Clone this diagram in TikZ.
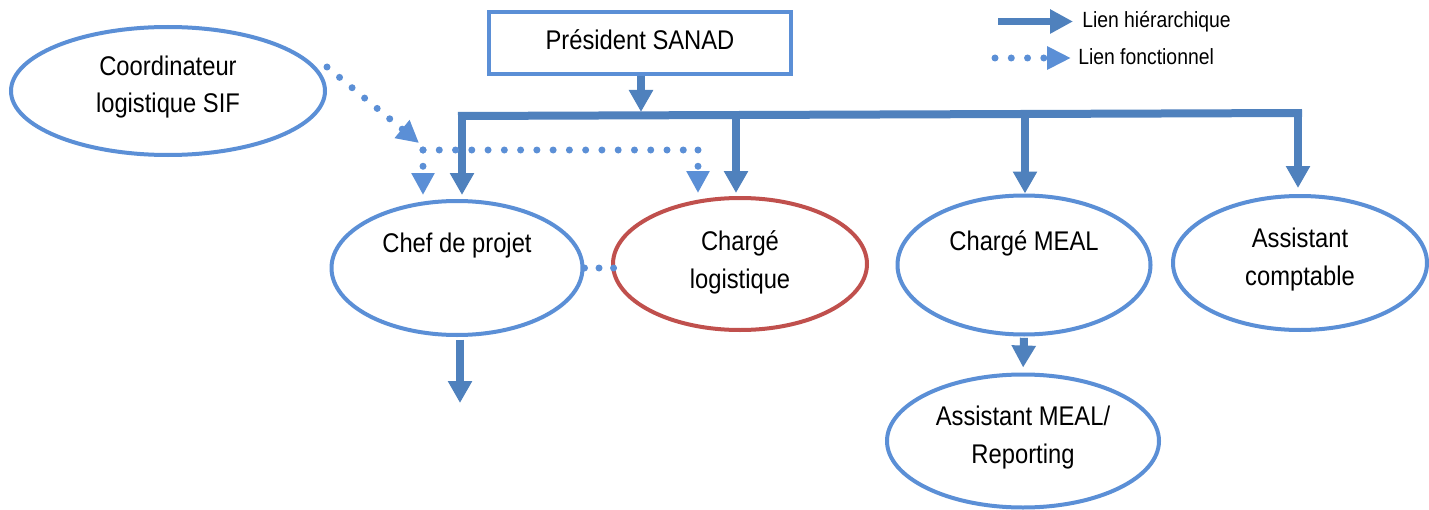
\documentclass[tikz,border=0pt]{standalone}
\usepackage{fontspec}
\setmainfont[FakeStretch=0.88]{Liberation Sans}
\usetikzlibrary{arrows.meta,shapes.geometric}
\definecolor{edgeblue}{HTML}{5B8FD6}
\definecolor{arrowblue}{HTML}{4F81BD}
\definecolor{boxred}{HTML}{C0504D}
\begin{document}
\begin{tikzpicture}[x=0.75pt,y=-0.75pt,
  role/.style={ellipse, draw=edgeblue, line width=3pt, inner sep=0pt},
  lbl/.style={font=\fontsize{20.25pt}{28pt}\selectfont, align=center, inner sep=0pt, anchor=base},
  legtxt/.style={font=\fontsize{16.5pt}{20pt}\selectfont, inner sep=0pt, anchor=base west},
  hier/.style={draw=arrowblue, line width=6pt, -{Triangle[width=17.25pt,length=16.5pt]}},
  hierbar/.style={draw=arrowblue, line width=6pt},
  funct/.style={draw=edgeblue, line width=5.25pt, line cap=round, dash pattern=on 0pt off 12.2pt, -{Triangle[width=16.5pt,length=16.5pt]}},
  functline/.style={draw=edgeblue, line width=5.25pt, line cap=round, dash pattern=on 0pt off 12.2pt}]
\fill[white] (0,0) rectangle (1429,510);
\useasboundingbox (0,0) rectangle (1429,510);

% boxes
\node[draw=edgeblue, line width=2.6pt, rectangle, minimum width=226.5pt, minimum height=46.5pt, inner sep=0pt] (pres) at (640,43) {};
\node[role, minimum width=235.5pt, minimum height=96pt] (coord) at (168,91) {};
\node[role, minimum width=188.25pt, minimum height=100.5pt] (chef) at (457,268) {};
\node[role, draw=boxred, minimum width=190.5pt, minimum height=99pt] (logi) at (740,264) {};
\node[role, minimum width=189.75pt, minimum height=104.25pt] (meal) at (1024,265) {};
\node[role, minimum width=190.5pt, minimum height=100.5pt] (comp) at (1300,263) {};
\node[role, minimum width=204pt, minimum height=99.75pt] (ameal) at (1023,441) {};

% labels (two-line labels: base = baseline of the second line)
\node[lbl] (presT) at (640,50) {Président SANAD};
\node[lbl] (coordT) at (168,113) {Coordinateur\\logistique SIF};
\node[lbl] (chefT) at (457,252) {Chef de projet};
\node[lbl] (logiT) at (740,288) {Chargé\\logistique};
\node[lbl] (mealT) at (1024,250) {Chargé MEAL};
\node[lbl] (compT) at (1300,285) {Assistant\\comptable};
\node[lbl] (amealT) at (1023,463) {Assistant MEAL/\\Reporting};

% hierarchical links
\coordinate (barL) at (462,116);
\coordinate (barR) at (1298,113);
\coordinate (barM) at (641,115);
\coordinate (dLog) at (736,115);
\coordinate (dMeal) at (1025,114);
\coordinate (chefOut) at (460,403);
\draw[hierbar] ([xshift=-3pt]barL) -- ([xshift=3pt]barR);
\draw[hier, shorten >=2.25pt] (pres.south -| barM) -- (barM);
\draw[hier, shorten >=3pt] (barL) -- (barL |- chef.north);
\draw[hier, shorten >=2.25pt] (dLog) -- (dLog |- logi.north);
\draw[hier] (dMeal) -- (dMeal |- meal.north);
\draw[hier, shorten >=4.5pt] (barR) -- (barR |- comp.north);
\draw[hier, shorten <=2pt] (chef.south -| chefOut) -- (chefOut);
\draw[hier, shorten <=1pt, shorten >=3.75pt] (meal.south) -- (ameal.north);

% functional links
\coordinate (J) at (419,143);
\coordinate (hL) at (423,150);
\coordinate (hR) at (698,150);
\draw[funct] ([yshift=18pt]coord.east) -- (J);
\draw[functline] (hL) -- (hR);
\draw[funct, shorten >=3pt] (hL) -- (hL |- chef.north);
\draw[funct, shorten >=2.25pt] (hR) -- (hR |- logi.north);
\draw[functline, dash pattern=on 0pt off 10.9pt] (chef.east) -- ([xshift=4pt]chef.east -| logi.west);

% legend
\coordinate (lh1) at (998,21.5);
\coordinate (lh2) at (1073,21.5);
\coordinate (lf1) at (995,58);
\coordinate (lf2) at (1071,58);
\draw[hier, line width=5.25pt, -{Triangle[width=17.25pt,length=17.25pt]}] (lh1) -- (lh2);
\draw[funct, -{Triangle[width=16.5pt,length=18pt]}] (lf1) -- (lf2);
\node[legtxt] (lhT) at (1082,28) {Lien hiérarchique};
\node[legtxt] (lfT) at (1078,65) {Lien fonctionnel};
\end{tikzpicture}
\end{document}
